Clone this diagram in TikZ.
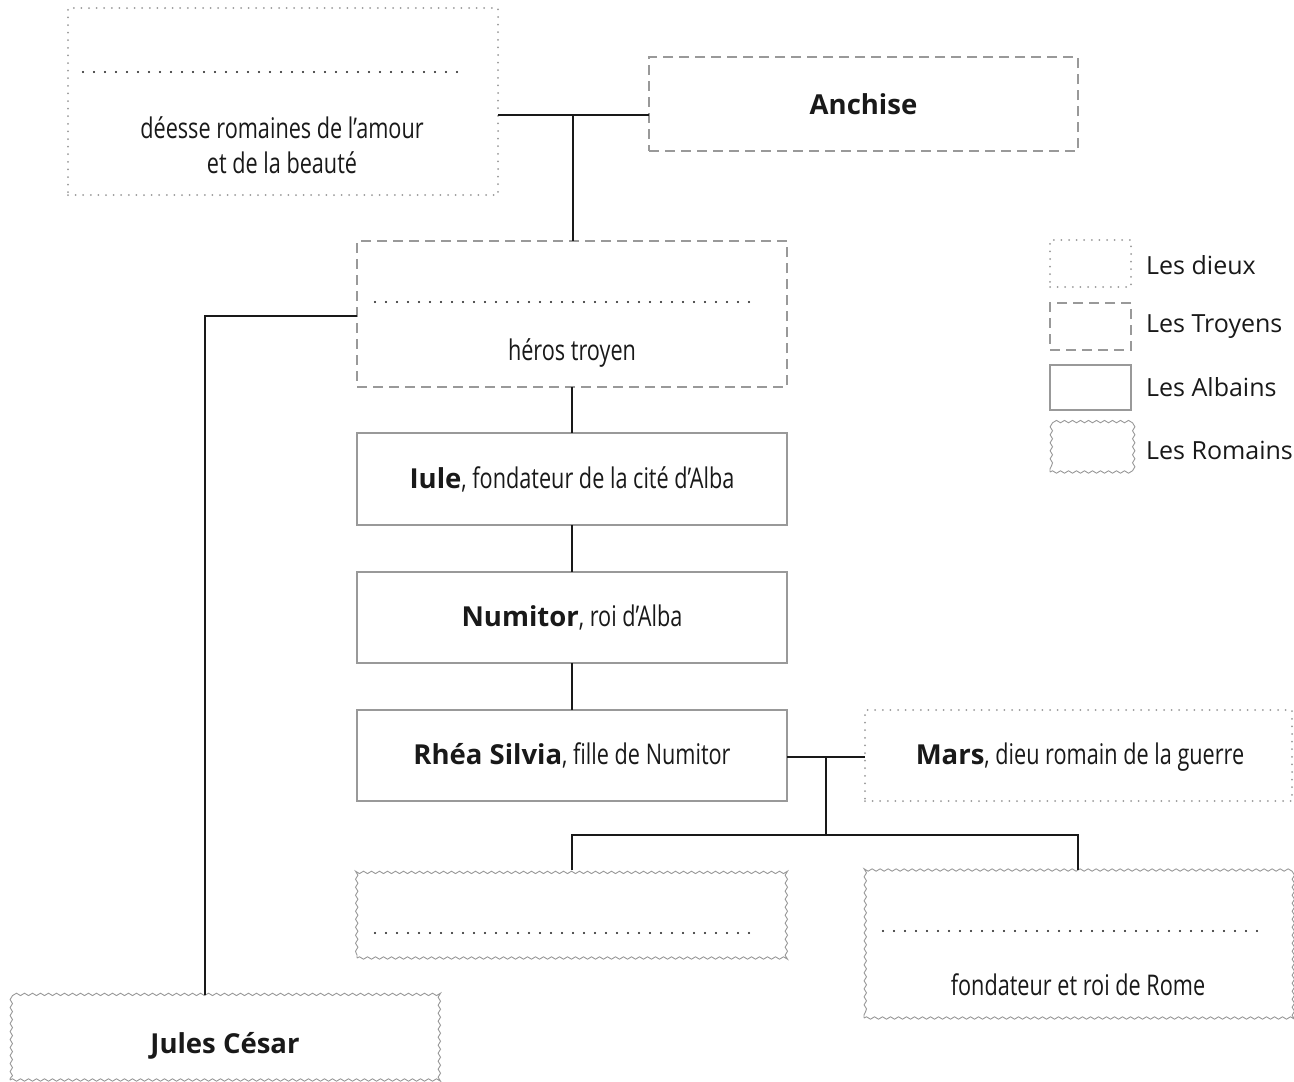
\documentclass[tikz,border=0pt]{standalone}
\usepackage{fontspec}
\setmainfont{Open Sans}
\newfontfamily\cond[FakeStretch=0.76]{Open Sans}
\usetikzlibrary{decorations.pathmorphing}
\definecolor{boxgray}{gray}{0.6}
\definecolor{ink}{gray}{0.1}
\tikzset{
  base/.style={inner sep=0pt, outer sep=0pt},
  dieuxbox/.style={base, draw=boxgray, line width=2pt, dash pattern=on 0pt off 7.6pt, line cap=round},
  troyenbox/.style={base, draw=boxgray, line width=2.2pt, dash pattern=on 10pt off 6pt},
  albainbox/.style={base, draw=boxgray, line width=2.2pt},
  romainbox/.style={base, draw=boxgray, line width=0.9pt, decorate, decoration={snake, amplitude=1.2pt, segment length=8pt}},
  link/.style={draw=ink, line width=2pt},
  blankline/.style={draw=ink, line width=2.4pt, dash pattern=on 0pt off 11pt, line cap=round},
  ctxt/.style={text=ink, font=\fontsize{28.5}{35}\selectfont\cond, align=center, inner sep=0pt},
  ltxt/.style={text=ink, font=\fontsize{25}{28}\selectfont, anchor=west, inner sep=0pt},
}
\newcommand{\nm}[1]{{\fontsize{27.5}{30}\selectfont\rmfamily\bfseries #1}}
\begin{document}
\begin{tikzpicture}[x=1pt,y=-1pt]
\useasboundingbox[fill=white] (0,0) rectangle (1294,1082);
% boxes
\node[dieuxbox, minimum width=430, minimum height=187] (venus) at (283,101.5) {};
\node[troyenbox, minimum width=429, minimum height=94] (anchise) at (863.5,104) {};
\node[troyenbox, minimum width=430, minimum height=146] (enee) at (572,314) {};
\node[albainbox, minimum width=430, minimum height=92] (iule) at (572,479) {};
\node[albainbox, minimum width=430, minimum height=91] (numitor) at (572,617.5) {};
\node[albainbox, minimum width=430, minimum height=91] (rhea) at (572,755.5) {};
\node[dieuxbox, minimum width=427, minimum height=91] (mars) at (1078.5,755.5) {};
\node[romainbox, minimum width=430, minimum height=88] (remus) at (572,914) {};
\node[romainbox, minimum width=428, minimum height=148] (romulus) at (1078,944) {};
\node[romainbox, minimum width=430, minimum height=85] (cesar) at (225,1037.5) {};
% legend
\node[dieuxbox, minimum width=81, minimum height=47] (lg1) at (1090.5,263.5) {};
\node[troyenbox, minimum width=81, minimum height=47] (lg2) at (1090.5,326.5) {};
\node[albainbox, minimum width=81, minimum height=45] (lg3) at (1090.5,387.5) {};
\node[romainbox, minimum width=81, minimum height=47] (lg4) at (1090.5,448.5) {};
\node[ltxt] (lt1) at (1146,265) {Les dieux};
\node[ltxt] (lt2) at (1146,327) {Les Troyens};
\node[ltxt] (lt3) at (1146,387) {Les Albains};
\node[ltxt] (lt4) at (1146,450) {Les Romains};
% texts
\node[ctxt] (venustxt) at (282,145) {déesse romaines de l’amour\\et de la beauté};
\node[ctxt] (anchisetxt) at (anchise) {\nm{Anchise}};
\node[ctxt] (eneetxt) at (572,353) {héros troyen};
\node[ctxt] (iuletxt) at (iule) {\nm{Iule}, fondateur de la cité d’Alba};
\node[ctxt] (numitortxt) at (numitor) {\nm{Numitor}, roi d’Alba};
\node[ctxt] (rheatxt) at (rhea) {\nm{Rhéa Silvia}, fille de Numitor};
\node[ctxt] (marstxt) at (1080,757) {\nm{Mars}, dieu romain de la guerre};
\node[ctxt] (romulustxt) at (1078,985) {fondateur et roi de Rome};
\node[ctxt] (cesartxt) at (225,1046) {\nm{Jules César}};
% blank lines
\draw[blankline] (83,72) -- (467,72);
\draw[blankline] (375,302) -- (757,302);
\draw[blankline] (375,933) -- (757,933);
\draw[blankline] (883,931) -- (1265,931);
% connectors
\coordinate (m1) at (573,115);
\coordinate (j1) at (205,316);
\coordinate (m2) at (826,757);
\coordinate (m3) at (826,835);
\draw[link] (venus.east |- m1) -- (anchise.west |- m1);
\draw[link] (m1) -- (m1 |- enee.north);
\draw[link] (enee.west |- j1) -- (j1) -- (j1 |- cesar.north);
\draw[link] (enee.south) -- (iule.north);
\draw[link] (iule.south) -- (numitor.north);
\draw[link] (numitor.south) -- (rhea.north);
\draw[link] (rhea.east |- m2) -- (mars.west |- m2);
\draw[link] (m2) -- (m3);
\draw[link] (remus.north) -- (remus.north |- m3) -- (romulus.north |- m3) -- (romulus.north);
\end{tikzpicture}
\end{document}
